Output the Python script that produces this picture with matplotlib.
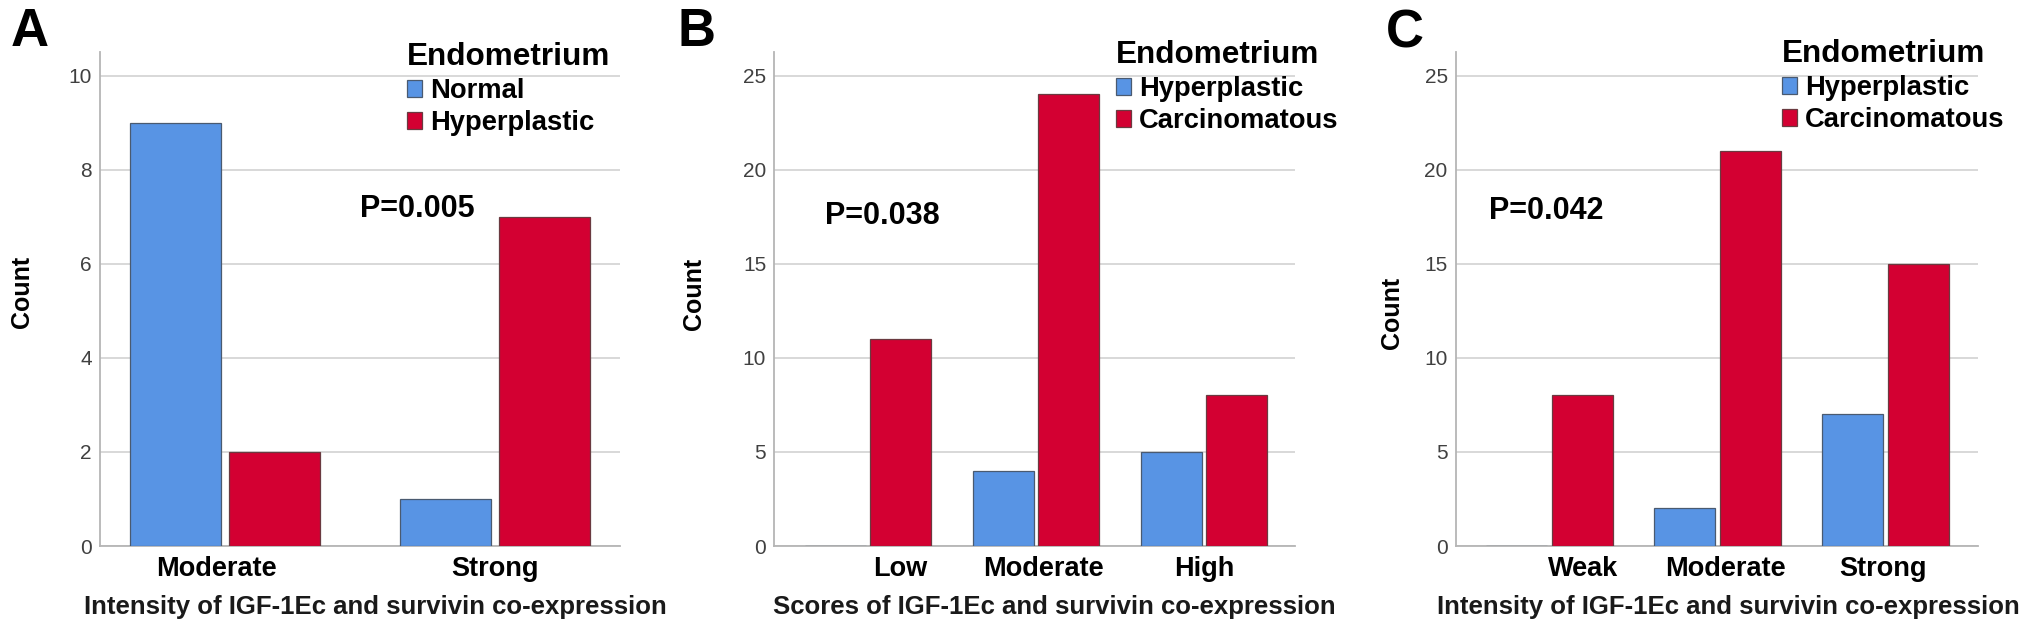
import numpy as np
import matplotlib
matplotlib.use("Agg")
import matplotlib.pyplot as plt

plt.rcParams['font.family'] = ['Liberation Sans', 'DejaVu Sans']

# data
cats_a = ['Moderate', 'Strong']
normal_a = [9, 1]
hyper_a = [2, 7]

cats_b = ['Low', 'Moderate', 'High']
hyper_b = [0, 4, 5]
carc_b = [11, 24, 8]

cats_c = ['Weak', 'Moderate', 'Strong']
hyper_c = [0, 2, 7]
carc_c = [8, 21, 15]

BLUE = '#5894E4'
RED = '#D30032'

W, H = 2031, 633
fig = plt.figure(figsize=(W / 100, H / 100), dpi=100)


def px(x0, y0, x1, y1):
    # pixel box -> figure fraction [left, bottom, width, height]
    return [x0 / W, 1 - y1 / H, (x1 - x0) / W, (y1 - y0) / H]


def panel(box, cats, s1, s2, lab1, lab2, width, off, xlim, ylim, yticks,
          tick_shift, xlabel, ptext, pxy, ylab_xy, xlab_xy, leg_xy, letter, letter_xy):
    ax = fig.add_axes(px(*box))
    x = np.arange(len(cats))
    b1 = ax.bar(x - off, s1, width, color=BLUE, edgecolor='#4a5a70', linewidth=0.9,
                label=lab1, zorder=3)
    b2 = ax.bar(x + off, s2, width, color=RED, edgecolor='#6a3a40', linewidth=0.9,
                label=lab2, zorder=3)
    ax.set_xlim(*xlim)
    ax.set_ylim(*ylim)
    ax.set_yticks(yticks)
    ax.set_xticks(x + np.array(tick_shift))
    ax.set_xticklabels(cats, fontsize=19.5, fontweight='bold')
    ax.tick_params(axis='x', length=0, pad=7)
    ax.tick_params(axis='y', length=0, pad=6, labelsize=15, labelcolor='#404040')
    ax.yaxis.grid(True, color='#d6d6d6', linewidth=1.3)
    ax.set_axisbelow(True)
    for s in ['top', 'right']:
        ax.spines[s].set_visible(False)
    for s in ['left', 'bottom']:
        ax.spines[s].set_color('#b5b5b5')
        ax.spines[s].set_linewidth(1.3)

    ax.set_ylabel('Count', fontsize=18, fontweight='bold')
    ax.yaxis.set_label_coords(*ylab_xy)
    ax.yaxis.label.set_va('center')
    ax.set_xlabel(xlabel, fontsize=18.5, fontweight='bold', color='#1a1a1a')
    ax.xaxis.set_label_coords(*xlab_xy)
    ax.xaxis.label.set_va('center')

    ax.text(pxy[0], pxy[1], ptext, fontsize=22, fontweight='bold', va='center', ha='left')

    leg = ax.legend(handles=[b1, b2], title='Endometrium', loc='upper left',
                    bbox_to_anchor=(leg_xy[0] / W, 1 - leg_xy[1] / H),
                    bbox_transform=fig.transFigure, frameon=False,
                    prop={'size': 19.7, 'weight': 'bold'},
                    title_fontproperties={'size': 22.7, 'weight': 'bold'},
                    alignment='left', handlelength=0.55, handleheight=0.6,
                    handletextpad=0.3, labelspacing=0.22, borderpad=0,
                    borderaxespad=0)
    fig.text(letter_xy[0] / W, 1 - letter_xy[1] / H, letter, fontsize=38,
             fontweight='bold', va='center', ha='left')
    return ax


panel((100, 52, 620, 546), cats_a, normal_a, hyper_a, 'Normal', 'Hyperplastic',
      0.335, 0.184, (-0.463, 1.463), (0, 10.5), [0, 2, 4, 6, 8, 10],
      [-0.03, 0.0], 'Intensity of IGF-1Ec and survivin co-expression',
      'P=0.005', (0.5, 7.17), (-0.15, 0.514), (0.529, -0.123), (407, 42),
      'A', (11, 32))

panel((774.5, 52, 1295, 546), cats_b, hyper_b, carc_b, 'Hyperplastic', 'Carcinomatous',
      0.363, 0.196, (-0.557, 2.542), (0, 26.25), [0, 5, 10, 15, 20, 25],
      [0.19, 0.045, 0.0], 'Scores of IGF-1Ec and survivin co-expression',
      'P=0.038', (-0.256, 17.55), (-0.155, 0.51), (0.538, -0.123), (1116, 40),
      'B', (678, 32))

panel((1456, 52, 1978, 546), cats_c, hyper_c, carc_c, 'Hyperplastic', 'Carcinomatous',
      0.363, 0.196, (-0.557, 2.548), (0, 26.25), [0, 5, 10, 15, 20, 25],
      [0.2, 0.045, -0.02], 'Intensity of IGF-1Ec and survivin co-expression',
      'P=0.042', (-0.36, 17.8), (-0.123, 0.472), (0.522, -0.123), (1782, 39),
      'C', (1386, 33))

fig.savefig('out.png', dpi=100)
